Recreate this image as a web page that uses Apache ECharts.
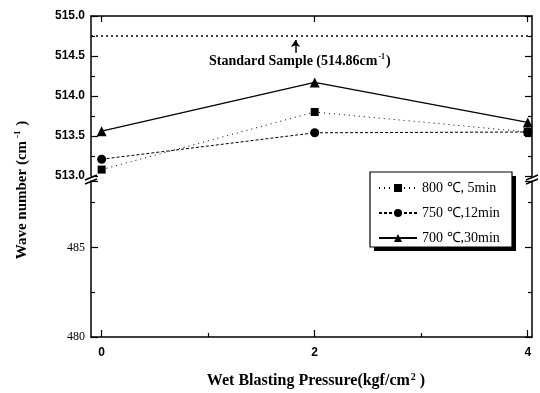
<!DOCTYPE html>
<html lang="en">
<head>
<meta charset="UTF-8">
<title>Wave number vs wet blasting pressure</title>
<script src="https://cdn.jsdelivr.net/npm/echarts@6/dist/echarts.min.js"></script>
<style>
  html, body { margin: 0; padding: 0; background: #fff; }
  #main { width: 540px; height: 393px; }
</style>
</head>
<body>
<div id="main"></div>
<script>
// data
var pressure = [0, 2, 4];
var s800 = [513.08, 513.80, 513.55];   // 800 ℃, 5min
var s750 = [513.21, 513.54, 513.55];   // 750 ℃, 12min
var s700 = [513.56, 514.17, 513.67];   // 700 ℃, 30min
var standardLine = 514.75;
var seriesNames = ['800 ℃, 5min', '750 ℃,12min', '700 ℃,30min'];
var xTicks = [0, 2, 4];
var xMinorTicks = [1, 3];

function pairs(vals) {
    var out = [];
    for (var i = 0; i < pressure.length; i++) out.push([pressure[i], vals[i]]);
    return out;
}

var chart = echarts.init(document.getElementById('main'));
var sans = 'Liberation Sans';
var serif = 'Liberation Serif';
var black = '#000';

var xBase = { type: 'value', min: -0.1, max: 4.04, splitLine: { show: false } };

var option = {
    backgroundColor: '#fff',
    animation: false,
    grid: [
        { left: 91, right: 8, top: 16, height: 160 },
        { left: 91, right: 8, top: 181, bottom: 56 }
    ],
    xAxis: [
        // upper grid, bottom (hidden)
        Object.assign({}, xBase, { gridIndex: 0, show: false }),
        // upper grid, top frame
        Object.assign({}, xBase, {
            gridIndex: 0, position: 'top',
            axisLine: { lineStyle: { color: black, width: 1.5 } },
            axisTick: { inside: true, length: 6, customValues: xTicks, lineStyle: { color: black, width: 1.2 } },
            axisLabel: { show: false }
        }),
        // lower grid, bottom with labels
        Object.assign({}, xBase, {
            gridIndex: 1, position: 'bottom',
            axisLine: { onZero: false, lineStyle: { color: black, width: 1.5 } },
            axisTick: { inside: true, length: 7, customValues: xTicks, lineStyle: { color: black, width: 1.2 } },
            axisLabel: { customValues: xTicks, color: black, fontFamily: sans, fontWeight: 'bold', fontSize: 12, margin: 10 }
        }),
        // lower grid, minor ticks
        Object.assign({}, xBase, {
            gridIndex: 1, position: 'bottom',
            axisLine: { show: false },
            axisTick: { inside: true, length: 4, customValues: xMinorTicks, lineStyle: { color: black, width: 1.2 } },
            axisLabel: { show: false }
        })
    ],
    yAxis: [
        {
            type: 'value', gridIndex: 0, min: 513, max: 515, interval: 0.5,
            axisLine: { show: true, onZero: false, lineStyle: { color: black, width: 1.5 } },
            axisTick: { inside: true, length: 7, lineStyle: { color: black, width: 1.2 } },
            minorTick: { show: true, splitNumber: 2, length: 4, lineStyle: { color: black, width: 1.2 } },
            splitLine: { show: false },
            axisLabel: {
                color: black, fontFamily: sans, fontWeight: 'bold', fontSize: 12, margin: 6,
                formatter: function (v) { return v.toFixed(1); }
            }
        },
        {
            type: 'value', gridIndex: 0, min: 513, max: 515, interval: 0.5, position: 'right',
            axisLine: { show: true, onZero: false, lineStyle: { color: black, width: 1.5 } },
            axisTick: { inside: true, length: 7, lineStyle: { color: black, width: 1.2 } },
            minorTick: { show: true, splitNumber: 2, length: 4, lineStyle: { color: black, width: 1.2 } },
            splitLine: { show: false },
            axisLabel: { show: false }
        },
        {
            type: 'value', gridIndex: 1, min: 480, max: 488.7, interval: 5,
            axisLine: { show: true, onZero: false, lineStyle: { color: black, width: 1.5 } },
            axisTick: { inside: true, length: 7, lineStyle: { color: black, width: 1.2 } },
            minorTick: { show: true, splitNumber: 2, length: 4, lineStyle: { color: black, width: 1.2 } },
            splitLine: { show: false },
            axisLabel: { color: black, fontFamily: serif, fontSize: 12, margin: 6, showMaxLabel: false }
        },
        {
            type: 'value', gridIndex: 1, min: 480, max: 488.7, interval: 5, position: 'right',
            axisLine: { show: true, onZero: false, lineStyle: { color: black, width: 1.5 } },
            axisTick: { inside: true, length: 7, lineStyle: { color: black, width: 1.2 } },
            minorTick: { show: true, splitNumber: 2, length: 4, lineStyle: { color: black, width: 1.2 } },
            splitLine: { show: false },
            axisLabel: { show: false }
        }
    ],
    legend: {
        orient: 'vertical',
        left: 370, top: 172,
        padding: [9, 12, 7, 8],
        itemGap: 11,
        itemWidth: 38, itemHeight: 10,
        textStyle: { color: black, fontFamily: serif, fontSize: 14 },
        z: 10,
        data: seriesNames
    },
    series: [
        {
            name: seriesNames[0], type: 'line', xAxisIndex: 0, yAxisIndex: 0,
            data: pairs(s800),
            symbol: 'rect', symbolSize: 8,
            itemStyle: { color: black },
            lineStyle: { color: black, width: 1, type: [1, 4] },
            markLine: {
                silent: true, symbol: 'none',
                label: { show: false },
                lineStyle: { color: black, width: 1.5, type: [2, 3] },
                data: [{ yAxis: standardLine }]
            }
        },
        {
            name: seriesNames[1], type: 'line', xAxisIndex: 0, yAxisIndex: 0,
            data: pairs(s750),
            symbol: 'circle', symbolSize: 9,
            itemStyle: { color: black },
            lineStyle: { color: black, width: 1, type: [3, 2] }
        },
        {
            name: seriesNames[2], type: 'line', xAxisIndex: 0, yAxisIndex: 0,
            data: pairs(s700),
            symbol: 'triangle', symbolSize: 10,
            itemStyle: { color: black },
            lineStyle: { color: black, width: 1.2, type: 'solid' },
            markLine: {
                silent: true, symbol: ['none', 'arrow'], symbolSize: 7,
                label: { show: false },
                lineStyle: { color: black, width: 1.5, type: 'solid' },
                data: [[{ coord: [1.82, 514.54] }, { coord: [1.82, 514.7] }]]
            }
        }
    ],
    graphic: [
        {
            type: 'text', left: 209, top: 53,
            style: {
                text: '{a|Standard Sample (514.86cm}{s|-1}{a|)}',
                rich: {
                    a: { fontFamily: serif, fontSize: 14, fontWeight: 'bold', fill: black },
                    s: { fontFamily: serif, fontSize: 8, fontWeight: 'bold', fill: black, verticalAlign: 'top', padding: [0, 1, 8, 1] }
                }
            }
        },
        {
            type: 'text', x: 22, y: 190, rotation: Math.PI / 2,
            style: {
                text: '{a|Wave number (cm}{s|-1}{a| )}',
                align: 'center', verticalAlign: 'middle',
                rich: {
                    a: { fontFamily: serif, fontSize: 15, fontWeight: 'bold', fill: black },
                    s: { fontFamily: serif, fontSize: 9, fontWeight: 'bold', fill: black, verticalAlign: 'top', padding: [0, 1, 9, 3] }
                }
            }
        },
        {
            type: 'text', x: 316, y: 381,
            style: {
                text: '{a|Wet Blasting Pressure(kgf/cm}{s|2}{a| )}',
                align: 'center', verticalAlign: 'middle',
                rich: {
                    a: { fontFamily: serif, fontSize: 16, fontWeight: 'bold', fill: black },
                    s: { fontFamily: serif, fontSize: 10, fontWeight: 'bold', fill: black, verticalAlign: 'top', padding: [0, 0, 8, 1] }
                }
            }
        },
        // legend box with drop shadow
        { type: 'rect', z: 5, shape: { x: 374, y: 176, width: 142, height: 75 }, style: { fill: black } },
        { type: 'rect', z: 6, shape: { x: 370, y: 172, width: 142, height: 75 }, style: { fill: '#fff', stroke: black, lineWidth: 1.2 } },
        // axis break marks
        { type: 'line', shape: { x1: 85, y1: 180, x2: 97, y2: 175 }, style: { stroke: black, lineWidth: 1.5 } },
        { type: 'line', shape: { x1: 85, y1: 184, x2: 97, y2: 179 }, style: { stroke: black, lineWidth: 1.5 } },
        { type: 'line', shape: { x1: 526, y1: 180, x2: 538, y2: 175 }, style: { stroke: black, lineWidth: 1.5 } },
        { type: 'line', shape: { x1: 526, y1: 184, x2: 538, y2: 179 }, style: { stroke: black, lineWidth: 1.5 } }
    ]
};

chart.setOption(option);
</script>
</body>
</html>
